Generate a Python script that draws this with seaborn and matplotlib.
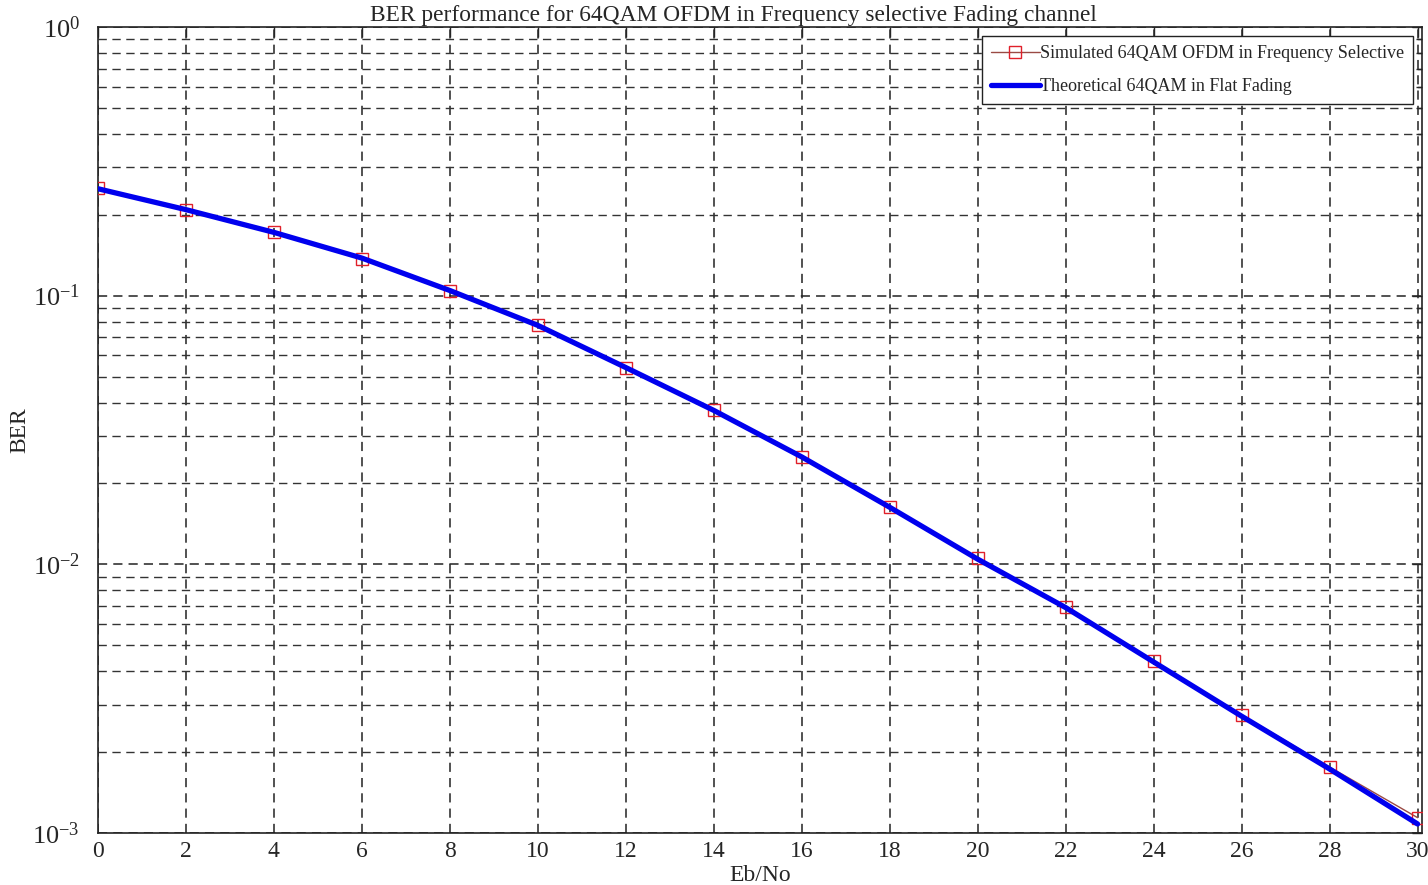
import numpy as np
import pandas as pd
import seaborn as sns
import matplotlib
matplotlib.use("Agg")
import matplotlib.pyplot as plt
from matplotlib.ticker import LogLocator, NullFormatter


"""Data read from the reference"""

Eb_No = [0, 2, 4, 6, 8, 10, 12, 14, 16, 18, 20, 22, 24, 26, 28, 30]
Simulated_BER = [0.252, 0.208, 0.173, 0.137, 0.104, 0.0778, 0.0538, 0.0376,
                 0.0251, 0.0164, 0.01056, 0.00694, 0.00437, 0.00275, 0.00176, 0.00114]
Theoretical_BER = [0.250, 0.209, 0.172, 0.138, 0.1045, 0.0775, 0.0540, 0.0374,
                   0.0251, 0.0163, 0.01045, 0.00690, 0.00433, 0.00272, 0.00173, 0.00108]
X_Ticks = list(range(0, 31, 2))


"""Plot"""

sns.set_style("white")
plt.rcParams['font.family'] = ['Liberation Serif', 'DejaVu Serif']
plt.rcParams['mathtext.fontset'] = 'stix'

Data_Frame = pd.DataFrame({'Eb/No': Eb_No, 'Simulated': Simulated_BER, 'Theoretical': Theoretical_BER})

fig = plt.figure(figsize=(14.28, 8.85), dpi=100)
ax = fig.add_axes([0.0686, 0.0588, 0.9272, 0.9107])

sns.lineplot(data=Data_Frame, x='Eb/No', y='Simulated', ax=ax, color='#9a4a44', linewidth=1.0,
             marker='s', markersize=9, markerfacecolor='none', markeredgecolor='#e0202a',
             markeredgewidth=1.0, label='Simulated 64QAM OFDM in Frequency Selective', zorder=3)
sns.lineplot(data=Data_Frame, x='Eb/No', y='Theoretical', ax=ax, color='#0000ee', linewidth=3.8,
             label='Theoretical 64QAM in Flat Fading', zorder=4)

ax.set_yscale('log')
ax.set_xlim(0, 30.1)
ax.set_ylim(1e-3, 1)
ax.set_xticks(X_Ticks)
ax.set_xticklabels([str(t) for t in X_Ticks])
ax.yaxis.set_major_locator(LogLocator(base=10))
ax.yaxis.set_minor_locator(LogLocator(base=10, subs=np.arange(2, 10)))
ax.yaxis.set_minor_formatter(NullFormatter())

ax.grid(True, which='major', axis='both', linestyle=(0, (6, 4)), color='#222222', linewidth=1.1)
ax.grid(True, which='minor', axis='y', linestyle=(0, (6, 4)), color='#333333', linewidth=1.0)

ax.tick_params(which='both', direction='in', top=True, right=True)
ax.tick_params(axis='x', labelsize=17, pad=6)
ax.tick_params(axis='y', labelsize=19, pad=13)
ax.tick_params(which='major', length=7, width=1)
ax.tick_params(which='minor', length=4, width=1)
for spine in ax.spines.values():
    spine.set_color('#222222')
    spine.set_linewidth(1.2)

ax.set_title('BER performance for 64QAM OFDM in Frequency selective Fading channel',
             fontsize=16.8, pad=4, x=0.48)
ax.set_xlabel('Eb/No', fontsize=17, labelpad=2)
ax.set_ylabel('BER', fontsize=17)
ax.yaxis.set_label_coords(-0.051, 0.5)

Legend = ax.legend(loc='upper right', fontsize=13, frameon=True, fancybox=False, framealpha=1,
                   edgecolor='#222222', handlelength=2.7, handletextpad=0.0, borderpad=0.5,
                   labelspacing=0.9, borderaxespad=0.5)
Legend.get_frame().set_linewidth(1.0)

fig.savefig('out.png', dpi=100)
